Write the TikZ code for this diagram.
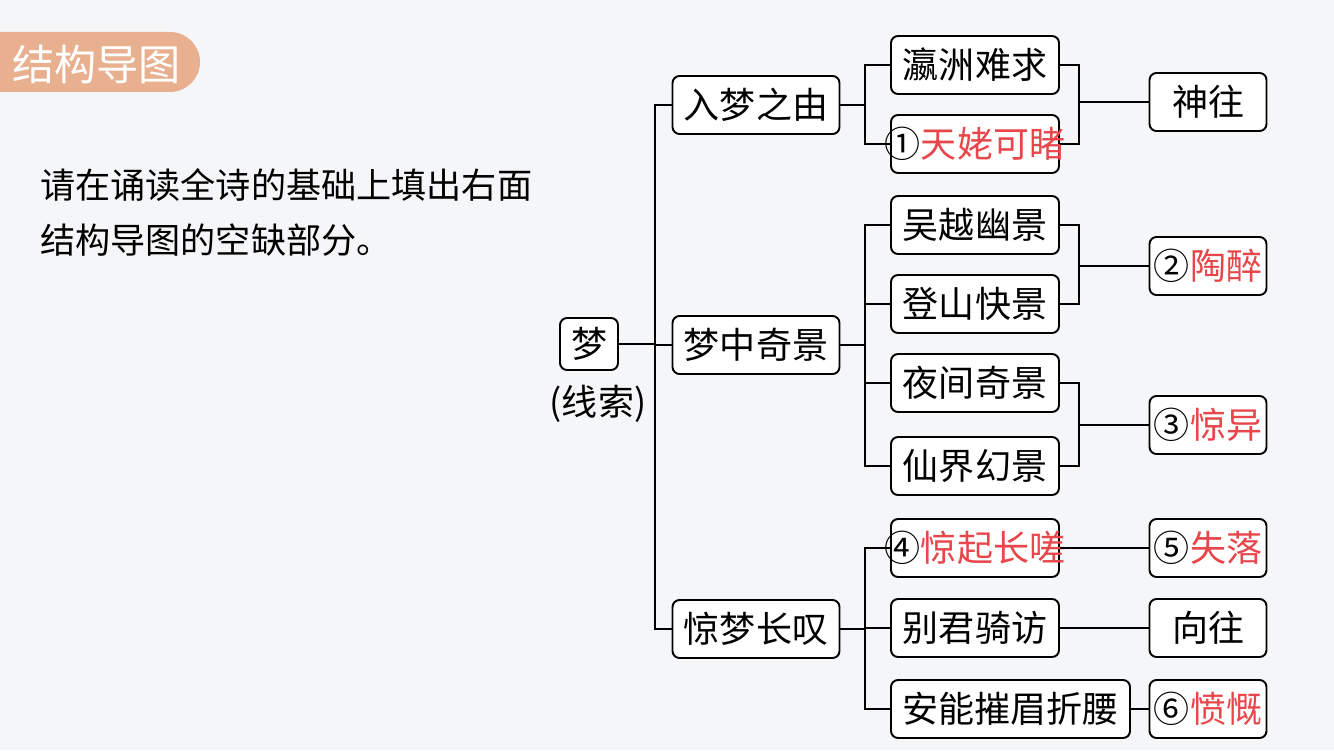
\documentclass[tikz,border=0pt]{standalone}
\usepackage{fontspec}
\newfontfamily\cjk{Noto Sans CJK SC}
\definecolor{badge}{HTML}{E8B08F}
\definecolor{ans}{HTML}{E8464A}
\definecolor{bg}{HTML}{F5F6F8}
\begin{document}
\begin{tikzpicture}[x=0.02cm,y=-0.02cm,
  bx/.style={draw=black,line width=1.1pt,rounded corners=4pt,fill=white,minimum height=58*0.02cm,inner sep=0pt,font=\cjk\fontsize{20.5}{22}\selectfont},
  l1/.style={bx,minimum width=167*0.02cm},
  l2/.style={bx,minimum width=168*0.02cm},
  l3/.style={bx,minimum width=117*0.02cm},
  tight/.style={inner xsep=-8pt},
  ln/.style={line width=1.1pt}]
\fill[bg] (0,0) rectangle (1334,750);
\useasboundingbox (0,0) rectangle (1334,750);
\fill[badge] (0,32) -- (170,32) arc[start angle=90,end angle=-90,radius=30*0.02cm] -- (0,92) -- cycle;
\node[text=white,font=\cjk\fontsize{24}{26}\selectfont,anchor=west] (title) at (6,64) {结构导图};
\node[anchor=west,font=\cjk\fontsize{20}{24}\selectfont] (p1) at (34,185) {请在诵读全诗的基础上填出右面};
\node[anchor=west,font=\cjk\fontsize{20}{24}\selectfont] (p2) at (34,240) {结构导图的空缺部分。};
% root
\node[bx,minimum width=58*0.02cm,minimum height=52*0.02cm] (m) at (589,344) {梦};
\node[font=\cjk\fontsize{20.5}{22}\selectfont] (xs) at (598,404) {(线索)};
% level 1
\node[l1] (a) at (756,105) {入梦之由};
\node[l1] (b) at (756,345) {梦中奇景};
\node[l1] (c) at (756,629) {惊梦长叹};
% level 2
\node[l2] (a1) at (975,65) {瀛洲难求};
\node[l2,tight] (a2) at (975,144) {①\textcolor{ans}{天姥可睹}};
\node[l2] (b1) at (975,225) {吴越幽景};
\node[l2] (b2) at (975,304) {登山快景};
\node[l2] (b3) at (975,383) {夜间奇景};
\node[l2] (b4) at (975,466) {仙界幻景};
\node[l2,tight] (c1) at (975,548) {④\textcolor{ans}{惊起长嗟}};
\node[l2] (c2) at (975,628) {别君骑访};
\node[bx,minimum width=239*0.02cm] (c3) at (1010.5,709) {安能摧眉折腰};
% level 3
\node[l3] (d1) at (1208,102) {神往};
\node[l3,tight] (d2) at (1208,266) {②\textcolor{ans}{陶醉}};
\node[l3,tight] (d3) at (1208,425) {③\textcolor{ans}{惊异}};
\node[l3,tight] (d4) at (1208,548) {⑤\textcolor{ans}{失落}};
\node[l3] (d5) at (1208,628) {向往};
\node[l3,tight] (d6) at (1208,709) {⑥\textcolor{ans}{愤慨}};
% connectors root
\draw[ln] (m.east) -- (655,344);
\draw[ln] (a.west) -| (655,629) -- (c.west);
\draw[ln] (655,345) -- (b.west);
% level1 -> level2
\draw[ln] (a.east) -- (865,105);
\draw[ln] (a1.west) -| (865,144) -- (a2.west);
\draw[ln] (b.east) -- (865,345);
\draw[ln] (b1.west) -| (865,466) -- (b4.west);
\draw[ln] (865,304) -- (b2.west);
\draw[ln] (865,383) -- (b3.west);
\draw[ln] (c.east) -- (865,629);
\draw[ln] (c1.west) -| (865,709) -- (c3.west);
\draw[ln] (865,628) -- (c2.west);
% level2 -> level3
\draw[ln] (a1.east) -| (1079,144) -- (a2.east);
\draw[ln] (1079,102) -- (d1.west);
\draw[ln] (b1.east) -| (1079,304) -- (b2.east);
\draw[ln] (1079,266) -- (d2.west);
\draw[ln] (b3.east) -| (1079,466) -- (b4.east);
\draw[ln] (1079,425) -- (d3.west);
\draw[ln] (c1.east) -- (d4.west);
\draw[ln] (c2.east) -- (d5.west);
\draw[ln] (c3.east) -- (d6.west);
\end{tikzpicture}
\end{document}
